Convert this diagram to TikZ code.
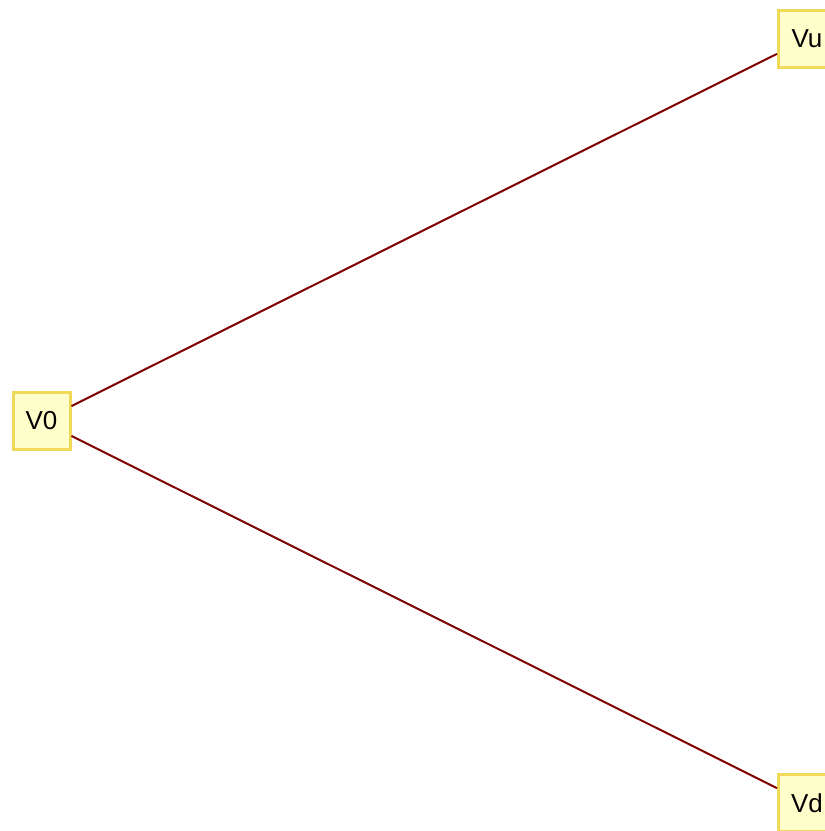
\documentclass[tikz,border=0pt]{standalone}
\usepackage{fontspec}
\setmainfont{Liberation Sans}
\definecolor{boxfill}{RGB}{255,255,204}
\definecolor{boxline}{RGB}{240,216,88}
\definecolor{edgered}{RGB}{128,0,0}
\tikzset{
  treenode/.style={draw=boxline, fill=boxfill, line width=3pt, inner sep=0pt,
    minimum width=57pt, minimum height=57pt, font=\fontsize{26}{30}\selectfont},
  branch/.style={draw=edgered, line width=2pt}
}
\begin{document}
\begin{tikzpicture}[x=1pt,y=1pt]
  \useasboundingbox (0,0) rectangle (825,-831);
  \begin{scope}
    \clip (0,0) rectangle (825,-831);
    \node[treenode] (v0) at (41.5,-421) {V0};
    \node[treenode] (vu) at (807,-39) {Vu};
    \node[treenode] (vd) at (807,-803) {Vd};
    \draw[branch] (v0) -- (vu);
    \draw[branch] (v0) -- (vd);
  \end{scope}
\end{tikzpicture}
\end{document}
